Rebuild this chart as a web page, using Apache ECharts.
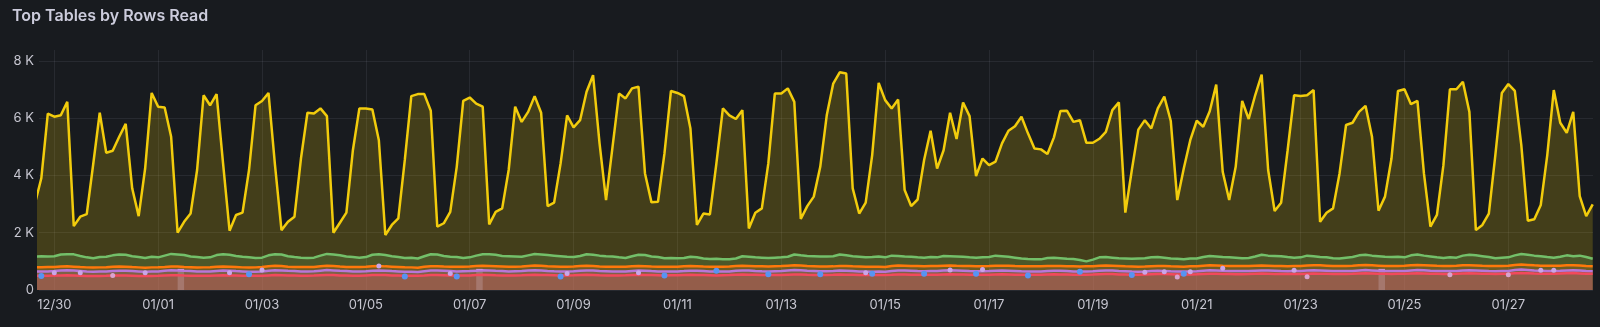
<!DOCTYPE html>
<html>
<head>
<meta charset="utf-8">
<title>Top Tables by Rows Read</title>
<script src="https://cdn.jsdelivr.net/npm/echarts@6/dist/echarts.min.js"></script>
<style>
  html, body { margin: 0; padding: 0; background: #181b1f; }
  #chart { width: 1600px; height: 327px; }
</style>
</head>
<body>
<div id="chart"></div>
<script>
// Samples every 3 hours, first sample at 12/29 15:00
const firstSample = new Date(2024, 11, 29, 15, 0).getTime();
const stepMs = 3 * 3600 * 1000;
const viewStart = new Date(2024, 11, 29, 16, 56).getTime();
const viewEnd = new Date(2025, 0, 28, 15, 8).getTime();

const dateTicks = ['12/30', '01/01', '01/03', '01/05', '01/07', '01/09', '01/11', '01/13',
                   '01/15', '01/17', '01/19', '01/21', '01/23', '01/25', '01/27'];
const valueTicks = [0, 2000, 4000, 6000, 8000];

// rows read per table
const tableA = [3000, 3900, 6160,
  6050, 6100, 6570, 2230, 2560, 2650, 4400, 6190,
  4790, 4860, 5350, 5800, 3550, 2580, 4250, 6880,
  6400, 6370, 5350, 2000, 2380, 2670, 4190, 6800,
  6450, 6840, 4420, 2070, 2620, 2700, 4190, 6450,
  6600, 6880, 4360, 2090, 2380, 2560, 4590, 6190,
  6160, 6340, 6070, 2000, 2350, 2700, 4880, 6340,
  6340, 6300, 5230, 1920, 2270, 2500, 4540, 6770,
  6840, 6840, 6260, 2210, 2330, 2730, 4300, 6600,
  6720, 6510, 6400, 2290, 2730, 2850, 4190, 6400,
  5870, 6220, 6770, 6190, 2930, 3050, 4420, 6100,
  5680, 5930, 6920, 7500, 5120, 3140, 5000, 6860,
  6690, 7040, 7100, 4070, 3060, 3080, 4770, 6950,
  6880, 6770, 5640, 2270, 2670, 2640, 4420, 6340,
  6100, 5970, 6280, 2150, 2700, 2850, 4420, 6860,
  6860, 7040, 6570, 2480, 2930, 3260, 4300, 6100,
  7210, 7600, 7560, 3550, 2670, 3050, 4710, 7230,
  6630, 6340, 6650, 3490, 2930, 3160, 4540, 5560,
  4240, 4880, 6190, 5270, 6550, 6070, 3980, 4590,
  4360, 4480, 5120, 5560, 5720, 6050, 5470, 4940,
  4910, 4750, 5330, 6250, 6260, 5870, 5930, 5140,
  5140, 5280, 5520, 6280, 6550, 2700, 4190, 5600,
  5930, 5640, 6340, 6750, 5900, 3140, 4240, 5230,
  5910, 5700, 6240, 7170, 4130, 3140, 4300, 6600,
  5970, 6800, 7520, 4190, 2760, 3050, 4880, 6800,
  6770, 6800, 6980, 2380, 2700, 2850, 4070, 5760,
  5840, 6220, 6430, 5350, 2770, 3260, 4590, 6950,
  7010, 6490, 6600, 4070, 2210, 2620, 4360, 7010,
  7010, 7270, 6220, 2090, 2270, 2670, 4710, 6880,
  7190, 6950, 5060, 2420, 2470, 2970, 4710, 6980,
  5840, 5490, 6220, 3280, 2580, 2990];

const tableB = [1170, 1175, 1170,
  1180, 1240, 1250, 1245, 1190, 1140, 1110, 1150,
  1160, 1210, 1240, 1230, 1180, 1150, 1120, 1160,
  1140, 1200, 1260, 1240, 1220, 1170, 1150, 1130,
  1140, 1220, 1250, 1230, 1190, 1160, 1140, 1120,
  1130, 1210, 1250, 1240, 1180, 1150, 1130, 1120,
  1130, 1200, 1260, 1240, 1210, 1170, 1150, 1130,
  1150, 1230, 1250, 1220, 1180, 1150, 1120, 1130,
  1100, 1180, 1250, 1240, 1190, 1160, 1150, 1120,
  1140, 1200, 1250, 1250, 1230, 1190, 1180, 1170,
  1160, 1210, 1260, 1240, 1220, 1200, 1180, 1160,
  1150, 1190, 1250, 1230, 1200, 1180, 1170, 1140,
  1120, 1180, 1230, 1220, 1170, 1150, 1110, 1120,
  1110, 1120, 1160, 1140, 1100, 1080, 1090, 1070,
  1070, 1100, 1180, 1160, 1140, 1130, 1120, 1130,
  1140, 1160, 1240, 1210, 1190, 1180, 1170, 1170,
  1180, 1240, 1210, 1180, 1160, 1140, 1150, 1170,
  1140, 1200, 1190, 1170, 1160, 1140, 1130, 1150,
  1140, 1190, 1180, 1170, 1160, 1140, 1130, 1140,
  1150, 1200, 1180, 1160, 1130, 1100, 1080, 1070,
  1070, 1120, 1130, 1110, 1090, 1080, 1050, 1000,
  1060, 1140, 1150, 1130, 1110, 1100, 1090, 1100,
  1110, 1140, 1150, 1130, 1100, 1090, 1070, 1100,
  1100, 1150, 1190, 1170, 1150, 1140, 1130, 1110,
  1120, 1170, 1230, 1200, 1190, 1180, 1150, 1130,
  1140, 1200, 1180, 1150, 1140, 1110, 1100, 1130,
  1150, 1210, 1230, 1200, 1180, 1160, 1150, 1160,
  1140, 1210, 1240, 1200, 1170, 1140, 1120, 1140,
  1130, 1200, 1230, 1210, 1180, 1150, 1110, 1130,
  1140, 1210, 1260, 1230, 1200, 1180, 1150, 1130,
  1160, 1210, 1180, 1200, 1150, 1090];

const tableC = [790, 795, 800,
  805, 820, 825, 815, 800, 790, 785, 790,
  795, 810, 820, 815, 800, 790, 780, 790,
  795, 805, 820, 820, 805, 795, 785, 790,
  795, 815, 820, 810, 800, 790, 785, 790,
  800, 830, 845, 835, 815, 805, 800, 800,
  805, 830, 850, 840, 820, 805, 800, 800,
  810, 830, 840, 825, 815, 805, 795, 790,
  780, 810, 830, 830, 820, 815, 810, 815,
  820, 835, 845, 840, 830, 820, 810, 815,
  820, 840, 855, 845, 830, 820, 810, 815,
  820, 835, 845, 835, 820, 815, 810, 810,
  815, 830, 840, 830, 820, 815, 810, 815,
  815, 825, 835, 830, 820, 815, 810, 815,
  820, 835, 845, 840, 830, 825, 820, 830,
  835, 850, 860, 855, 840, 830, 820, 820,
  825, 840, 835, 825, 820, 815, 810, 810,
  800, 835, 855, 850, 840, 835, 830, 835,
  835, 850, 855, 845, 840, 835, 830, 830,
  835, 845, 850, 845, 835, 830, 825, 825,
  825, 835, 840, 835, 830, 825, 820, 825,
  830, 845, 855, 845, 835, 825, 820, 815,
  820, 830, 840, 835, 825, 820, 815, 825,
  830, 850, 860, 855, 845, 840, 835, 840,
  840, 850, 855, 850, 840, 835, 830, 835,
  840, 855, 865, 860, 850, 840, 835, 840,
  845, 865, 870, 860, 850, 840, 835, 840,
  845, 860, 870, 865, 855, 845, 840, 840,
  845, 860, 865, 855, 845, 840, 835, 840,
  845, 875, 890, 875, 860, 850, 845, 845,
  850, 860, 865, 855, 840, 830];

const tableD = [640, 645, 650,
  660, 680, 690, 680, 665, 650, 640, 645,
  650, 665, 675, 670, 660, 650, 640, 645,
  650, 670, 690, 685, 670, 660, 650, 645,
  650, 665, 680, 675, 660, 650, 640, 640,
  645, 670, 690, 685, 670, 660, 650, 650,
  655, 675, 695, 685, 670, 660, 650, 650,
  655, 670, 685, 675, 660, 650, 640, 640,
  630, 655, 680, 680, 670, 660, 650, 655,
  660, 675, 690, 685, 670, 660, 650, 655,
  660, 680, 690, 680, 665, 655, 650, 650,
  655, 670, 685, 680, 665, 655, 645, 650,
  650, 665, 680, 675, 660, 650, 645, 650,
  650, 660, 675, 670, 660, 650, 645, 650,
  650, 670, 685, 680, 665, 655, 650, 655,
  660, 680, 700, 690, 675, 665, 655, 655,
  660, 680, 670, 660, 650, 645, 640, 645,
  640, 665, 685, 680, 670, 660, 655, 660,
  660, 680, 690, 680, 670, 660, 655, 655,
  660, 675, 685, 675, 665, 655, 650, 650,
  650, 665, 675, 670, 660, 650, 645, 650,
  655, 670, 685, 680, 665, 655, 645, 640,
  645, 660, 670, 665, 655, 650, 645, 650,
  655, 675, 690, 685, 670, 665, 660, 660,
  660, 675, 685, 680, 670, 660, 655, 660,
  660, 680, 690, 685, 675, 665, 660, 660,
  665, 685, 695, 685, 675, 665, 660, 665,
  665, 680, 695, 690, 675, 665, 660, 660,
  660, 680, 690, 680, 670, 660, 655, 660,
  665, 700, 715, 700, 685, 675, 665, 665,
  670, 685, 690, 680, 665, 655];

const tableE = [495, 500, 500,
  505, 510, 515, 510, 500, 490, 485, 490,
  495, 505, 510, 505, 500, 490, 485, 490,
  495, 505, 515, 515, 505, 500, 495, 495,
  500, 510, 515, 510, 505, 500, 495, 495,
  500, 510, 520, 515, 510, 505, 500, 500,
  505, 515, 525, 520, 510, 505, 500, 500,
  510, 520, 525, 520, 510, 505, 500, 500,
  495, 505, 520, 520, 515, 510, 505, 510,
  510, 520, 530, 525, 515, 510, 505, 510,
  515, 525, 530, 525, 520, 515, 510, 510,
  515, 525, 530, 525, 515, 510, 510, 510,
  515, 525, 530, 525, 520, 515, 510, 515,
  515, 525, 530, 525, 520, 515, 510, 515,
  520, 530, 540, 535, 530, 525, 520, 525,
  525, 535, 545, 540, 530, 525, 520, 525,
  530, 540, 535, 530, 525, 520, 520, 520,
  520, 530, 545, 540, 535, 530, 530, 530,
  535, 545, 550, 545, 540, 535, 530, 535,
  535, 545, 550, 545, 535, 530, 530, 530,
  535, 545, 550, 545, 540, 535, 530, 535,
  540, 550, 555, 555, 545, 540, 535, 535,
  540, 550, 555, 555, 550, 545, 545, 545,
  550, 560, 570, 565, 560, 555, 550, 550,
  555, 565, 575, 570, 560, 555, 555, 555,
  560, 570, 575, 570, 565, 560, 555, 560,
  565, 575, 585, 580, 570, 565, 560, 565,
  565, 575, 585, 580, 570, 565, 560, 560,
  565, 580, 585, 580, 570, 565, 560, 565,
  570, 585, 595, 585, 575, 570, 565, 565,
  575, 585, 590, 580, 570, 565];

// tables that only report now and then: sample slot -> rows read
const tableFSlots = [1, 33, 57, 65, 81, 97, 105, 113, 121, 129, 137, 145, 153, 161, 169, 177];
const tableFRows  = [490, 550, 470, 470, 470, 510, 670, 550, 550, 570, 570, 570, 510, 640, 520, 570];
const tableGSlots = [3, 7, 17, 30, 35, 53, 64, 82, 93, 128, 141, 146, 171, 174, 178, 183, 194, 232, 234];
const tableGRows  = [600, 600, 600, 600, 700, 840, 580, 580, 600, 600, 700, 720, 620, 640, 640, 760, 690, 690, 690];
const tableHSlots = [12, 176, 196, 218, 227];
const tableHRows  = [510, 450, 460, 530, 530];
// short runs of two consecutive samples
const tableISlots = [22, 68, 207];
const tableIRows  = [720, 720, 720];

const slotTime = k => firstSample + k * stepMs;
const toSeries = arr => arr.map((v, k) => [slotTime(k), v]);
const toPoints = (slots, rows) => slots.map((s, k) => [slotTime(s), rows[k]]);
const toRuns = (slots, rows) => {
  const out = [];
  slots.forEach((s, k) => {
    out.push([slotTime(s), rows[k]], [slotTime(s + 1), rows[k]], [slotTime(s + 1) + 1, null]);
  });
  return out;
};
const tickTime = label => {
  const [m, d] = label.split('/').map(Number);
  return new Date(m === 12 ? 2024 : 2025, m - 1, d).getTime();
};
const pad = n => String(n).padStart(2, '0');
const dateTickTimes = dateTicks.map(tickTime);

const textColor = '#c7c7d1';
const gridColor = 'rgba(204, 204, 220, 0.09)';

function lineSeries(name, data, color, width) {
  return {
    name, type: 'line', data: toSeries(data),
    showSymbol: false, symbol: 'none',
    lineStyle: { color, width },
    itemStyle: { color },
    areaStyle: { color, opacity: 0.2 },
    emphasis: { disabled: true },
    animation: false
  };
}
function pointSeries(name, slots, rows, color, size) {
  return {
    name, type: 'scatter', data: toPoints(slots, rows),
    symbol: 'circle', symbolSize: size,
    itemStyle: { color, opacity: 1 },
    z: 5, animation: false
  };
}

const chart = echarts.init(document.getElementById('chart'), null, { renderer: 'canvas' });
chart.setOption({
  backgroundColor: '#181b1f',
  animation: false,
  title: {
    text: 'Top Tables by Rows Read',
    left: 7, top: 3,
    textStyle: { color: '#ccccdc', fontFamily: 'Inter', fontSize: 16, fontWeight: 600 }
  },
  grid: { left: 39, right: 7, top: 50, bottom: 37, containLabel: false },
  xAxis: {
    type: 'value',
    min: viewStart, max: viewEnd,
    axisLine: { show: false },
    axisTick: { show: false, customValues: dateTickTimes },
    axisLabel: {
      customValues: dateTickTimes,
      color: textColor, fontFamily: 'Inter', fontSize: 13, margin: 9,
      formatter: v => { const d = new Date(v); return pad(d.getMonth() + 1) + '/' + pad(d.getDate()); }
    },
    splitLine: { show: true, lineStyle: { color: gridColor, width: 1 } }
  },
  yAxis: {
    type: 'value',
    min: valueTicks[0], max: 8380, interval: 2000,
    axisLine: { show: false },
    axisTick: { show: false },
    axisLabel: {
      color: textColor, fontFamily: 'Inter', fontSize: 13, margin: 5,
      showMaxLabel: false,
      formatter: v => (valueTicks.includes(v) ? (v === 0 ? '0' : (v / 1000) + ' K') : '')
    },
    splitLine: { show: true, showMaxLine: false, lineStyle: { color: gridColor, width: 1 } }
  },
  series: [
    lineSeries('tableA', tableA, '#F2CC0C', 2.5),
    lineSeries('tableB', tableB, '#73BF69', 2.5),
    lineSeries('tableC', tableC, '#FF780A', 2.5),
    lineSeries('tableD', tableD, '#B877D9', 2.5),
    lineSeries('tableE', tableE, '#F2495C', 2.5),
    {
      name: 'tableI', type: 'line', data: toRuns(tableISlots, tableIRows),
      showSymbol: false, symbol: 'none', connectNulls: false,
      lineStyle: { color: '#CA95E5', width: 1 },
      areaStyle: { color: '#E4D8EC', opacity: 0.22 },
      animation: false
    },
    pointSeries('tableF', tableFSlots, tableFRows, '#5794F2', 6),
    pointSeries('tableG', tableGSlots, tableGRows, '#C9A6E8', 5),
    pointSeries('tableH', tableHSlots, tableHRows, '#D9A3CF', 5)
  ]
});
</script>
</body>
</html>
